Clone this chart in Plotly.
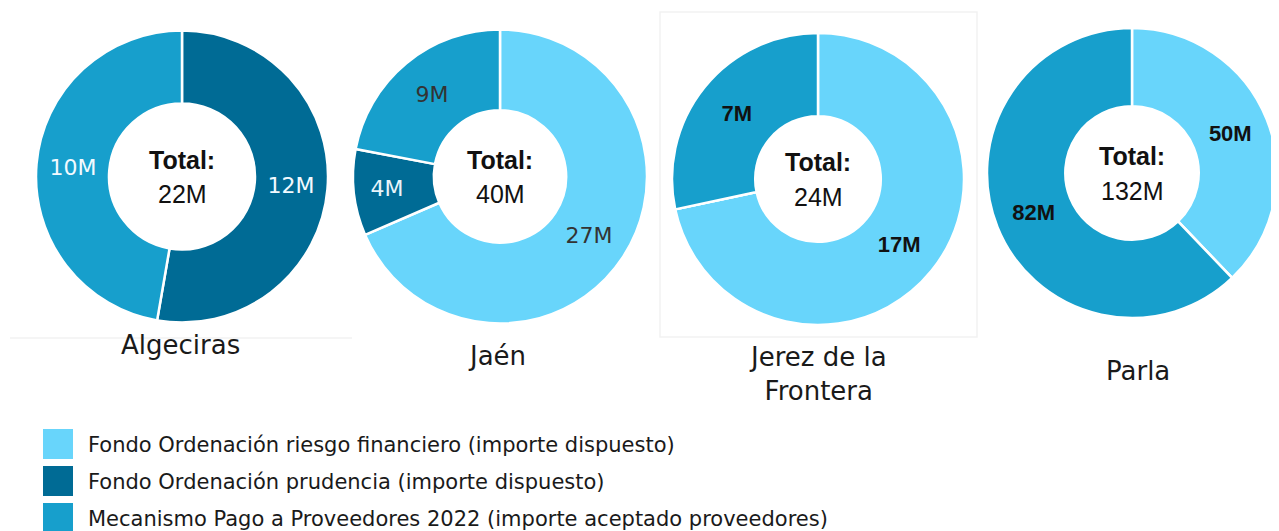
import plotly.graph_objects as go

# ---------------- data ----------------
series = [
    "Fondo Ordenación riesgo financiero (importe dispuesto)",
    "Fondo Ordenación prudencia (importe dispuesto)",
    "Mecanismo Pago a Proveedores 2022 (importe aceptado proveedores)",
]
cities = ["Algeciras", "Jaén", "Jerez de la<br>Frontera", "Parla"]
# values in millions, order = series order (0 means not present)
riesgo = [0.0, 27.4, 17.2, 50.0]
prudencia = [11.6, 3.8, 0.0, 0.0]
mecanismo = [10.4, 8.8, 6.8, 82.0]

# ---------------- style ----------------
OFF = 8  # page body margin
W, H = 1279 - OFF, 531 - OFF
colors = ["#68D5FB", "#006B95", "#179FCC"]
# panel geometry in target-pixels: centre x, centre y, radius, hole
panels = [
    (182, 176.5, 146, 0.50),
    (500, 176.5, 147, 0.45),
    (818, 179.0, 146, 0.43),
    (1132, 173.0, 145, 0.46),
]
label_colors = [
    ["#F2FAFF", "#F2FAFF", "#F2FAFF"],
    ["#333333", "#E8F4FA", "#333333"],
    ["#111111", "#111111", "#111111"],
    ["#111111", "#111111", "#111111"],
]
label_bold = [False, False, True, True]
city_pos = [(180, 345), (497, 356), (818, 374), (1138, 371)]

FONT = "Liberation Sans, Arial, sans-serif"
WIDE = "DejaVu Sans, Verdana, sans-serif"


def px(x, y):
    return (x - OFF) / W, 1 - (y - OFF) / H


fig = go.Figure()
annotations = []
shapes = []

for i, city in enumerate(cities):
    vals = [riesgo[i], prudencia[i], mecanismo[i]]
    cx, cy, r, hole = panels[i]
    x0, y1 = px(cx - r, cy - r)
    x1, y0 = px(cx + r, cy + r)
    texts = [f"{round(v)}M" if v > 0 else "" for v in vals]
    fig.add_trace(go.Pie(
        labels=series,
        values=vals,
        text=texts,
        textinfo="text",
        textposition="inside",
        insidetextorientation="horizontal",
        textfont=dict(family=FONT if label_bold[i] else WIDE, size=22, color=label_colors[i],
                      weight="bold" if label_bold[i] else "normal"),
        marker=dict(colors=colors, line=dict(color="white", width=2.5)),
        hole=hole,
        sort=False,
        direction="clockwise",
        rotation=0,
        domain=dict(x=[x0, x1], y=[y0, y1]),
        showlegend=False,
        hoverinfo="label+value",
    ))
    total = round(sum(vals))
    tx, ty = px(cx, cy - 17)
    annotations.append(dict(x=tx, y=ty, xref="paper", yref="paper", text="<b>Total:</b>",
                            showarrow=False, font=dict(family=FONT, size=25, color="#111111"),
                            xanchor="center", yanchor="middle"))
    tx, ty = px(cx, cy + 17.5)
    annotations.append(dict(x=tx, y=ty, xref="paper", yref="paper", text=f"{total}M",
                            showarrow=False, font=dict(family=FONT, size=25, color="#111111"),
                            xanchor="center", yanchor="middle"))
    lx, ly = px(*city_pos[i])
    annotations.append(dict(x=lx, y=ly, xref="paper", yref="paper", text=city,
                            showarrow=False, font=dict(family=WIDE, size=26, color="#1a1a1a"),
                            xanchor="center", yanchor="middle"))

# faint panel borders (as in the source screenshot)
bx0, by0 = px(660, 12)
bx1, by1 = px(977, 337)
shapes.append(dict(type="rect", xref="paper", yref="paper", x0=bx0, x1=bx1, y0=by1, y1=by0,
                   line=dict(color="#F2F2F2", width=1.5)))
ax0, ay = px(10, 338)
ax1, _ = px(352, 338)
shapes.append(dict(type="line", xref="paper", yref="paper", x0=ax0, x1=ax1, y0=ay, y1=ay,
                   line=dict(color="#F2F2F2", width=1.5)))

# custom legend
row_y = [444, 481, 518]
for j, name in enumerate(series):
    sx0, sy0 = px(43, row_y[j] - 15)
    sx1, sy1 = px(73, row_y[j] + 15)
    shapes.append(dict(type="rect", xref="paper", yref="paper", x0=sx0, x1=sx1, y0=sy1, y1=sy0,
                       fillcolor=colors[j], line=dict(width=0)))
    tx, ty = px(86, row_y[j] + 1)
    annotations.append(dict(x=tx, y=ty, xref="paper", yref="paper", text=name,
                            showarrow=False, font=dict(family=WIDE, size=21, color="#1a1a1a"),
                            xanchor="left", yanchor="middle"))

fig.update_layout(
    width=W, height=H,
    margin=dict(l=0, r=0, t=0, b=0),
    paper_bgcolor="white",
    plot_bgcolor="white",
    annotations=annotations,
    shapes=shapes,
    showlegend=False,
    uniformtext=dict(minsize=14, mode="show"),
)

fig.write_html("out.html")
